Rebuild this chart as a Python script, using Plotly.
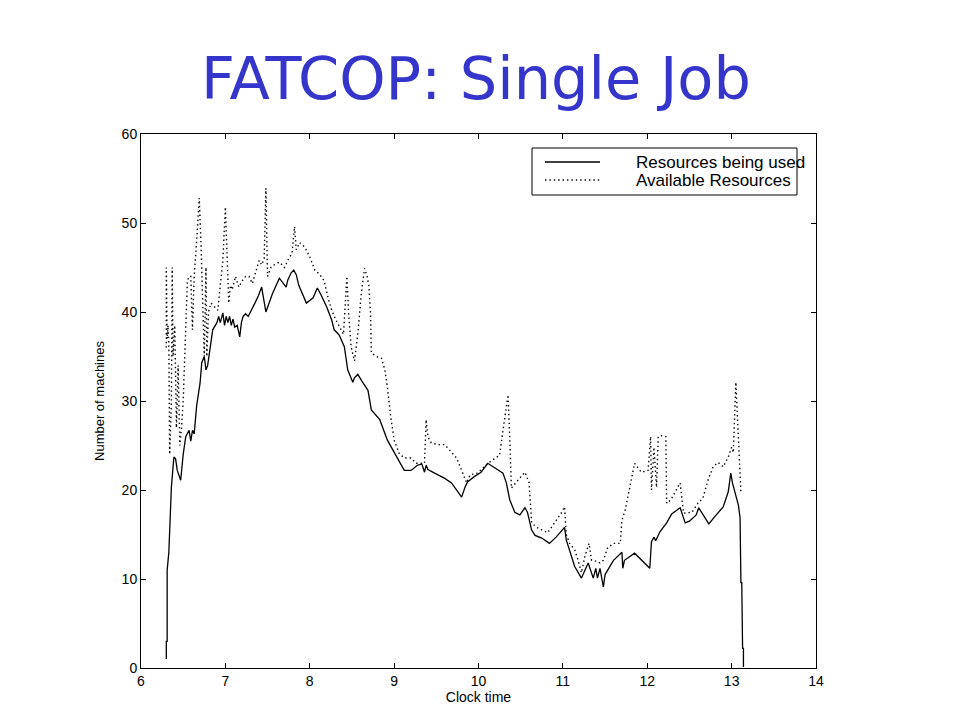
import plotly.graph_objects as go

# ---- data (Clock time in hours, Number of machines) ----
used_x = [6.30, 6.30, 6.31, 6.31, 6.33, 6.34, 6.36, 6.38, 6.39, 6.41, 6.43, 6.47, 6.50, 6.53, 6.57, 6.59,
          6.61, 6.63, 6.66, 6.70, 6.72, 6.75, 6.77, 6.79, 6.82, 6.85, 6.90, 6.92, 6.94, 6.97, 6.99, 7.01,
          7.03, 7.05, 7.07, 7.09, 7.11, 7.14, 7.17, 7.19, 7.21, 7.24, 7.27, 7.31, 7.35, 7.39, 7.43, 7.48,
          7.52, 7.56, 7.64, 7.68, 7.72, 7.74, 7.78, 7.81, 7.84, 7.87, 7.92, 7.96, 8.04, 8.09, 8.13, 8.20,
          8.26, 8.29, 8.35, 8.41, 8.45, 8.51, 8.53, 8.57, 8.62, 8.69, 8.73, 8.83, 8.92, 9.04, 9.12, 9.20,
          9.28, 9.33, 9.36, 9.38, 9.40, 9.48, 9.60, 9.68, 9.75, 9.80, 9.84, 9.87, 9.95, 10.03, 10.11, 10.18,
          10.29, 10.33, 10.37, 10.43, 10.49, 10.55, 10.58, 10.63, 10.67, 10.75, 10.84, 10.92, 11.02, 11.04,
          11.08, 11.14, 11.22, 11.30, 11.36, 11.39, 11.41, 11.44, 11.48, 11.50, 11.60, 11.70, 11.71, 11.73,
          11.85, 12.03, 12.05, 12.08, 12.10, 12.15, 12.23, 12.29, 12.39, 12.45, 12.50, 12.58, 12.61, 12.66,
          12.73, 12.80, 12.90, 12.96, 12.99, 13.01, 13.06, 13.08, 13.10, 13.11, 13.12, 13.13, 13.14, 13.14]
used_y = [1, 3, 3, 11, 13, 16, 20.3, 22.6, 23.7, 23.5, 22.2, 21.1, 24, 26, 26.7, 25.5,
          26.7, 26.3, 29.5, 32, 34.3, 35, 33.5, 34, 36, 38, 38.8, 39.5, 38.8, 39.9, 38.5, 39.5,
          38.8, 39.5, 38.5, 39.2, 38.3, 38.5, 37.2, 38.8, 39.5, 39.8, 39.5, 40.2, 41, 41.8, 42.8, 40,
          41, 42.1, 43.8, 43.3, 42.8, 43.6, 44.4, 44.7, 44.2, 43, 41.9, 41, 41.6, 42.7, 42, 40.6,
          39.1, 38, 37.4, 36.1, 33.5, 32.1, 32.6, 33, 32.2, 31.2, 29, 27.9, 25.6, 23.6, 22.2, 22.2,
          22.8, 22.9, 22, 22.8, 22.3, 21.9, 21.3, 20.8, 19.8, 19.2, 20.3, 20.9, 21.5, 22, 23, 22.6,
          21.9, 20.8, 18.9, 17.5, 17.2, 18, 17.5, 15.5, 14.9, 14.6, 14, 14.7, 15.8, 14.4,
          13.3, 11.4, 10.1, 11.8, 10.1, 11.2, 10.1, 11.2, 9.1, 10.5, 12.1, 13, 11.2, 12.1,
          12.9, 11.2, 14.2, 14.7, 14.3, 15.3, 16.3, 17.3, 18, 16.3, 16.5, 17.2, 18, 17.2,
          16.2, 17, 18.1, 19.8, 21.9, 20.8, 18.9, 18.3, 16.9, 9.6, 9.6, 2.2, 2.2, 0.1]

avail_x = [6.30, 6.30, 6.31, 6.32, 6.33, 6.34, 6.36, 6.37, 6.38, 6.40, 6.42, 6.44, 6.46, 6.48, 6.50, 6.53,
           6.55, 6.57, 6.59, 6.61, 6.63, 6.66, 6.69, 6.71, 6.73, 6.75, 6.77, 6.78, 6.80, 6.83, 6.88, 6.91,
           6.94, 6.97, 7.00, 7.02, 7.04, 7.06, 7.08, 7.12, 7.16, 7.20, 7.24, 7.28, 7.32, 7.36, 7.40, 7.43,
           7.46, 7.48, 7.50, 7.54, 7.58, 7.64, 7.70, 7.75, 7.79, 7.82, 7.84, 7.88, 7.94, 8.00, 8.06, 8.12,
           8.17, 8.22, 8.26, 8.31, 8.37, 8.40, 8.44, 8.46, 8.49, 8.53, 8.57, 8.61, 8.65, 8.68, 8.70, 8.72,
           8.73, 8.79, 8.85, 8.89, 8.92, 8.96, 9.00, 9.06, 9.12, 9.20, 9.26, 9.36, 9.38, 9.40, 9.44, 9.52,
           9.60, 9.66, 9.74, 9.80, 9.86, 9.90, 9.99, 10.11, 10.25, 10.28, 10.31, 10.35, 10.37, 10.39, 10.44,
           10.49, 10.55, 10.60, 10.63, 10.69, 10.76, 10.82, 10.90, 10.98, 11.02, 11.04, 11.08, 11.14, 11.18,
           11.22, 11.26, 11.31, 11.34, 11.40, 11.44, 11.48, 11.53, 11.60, 11.68, 11.70, 11.74, 11.79, 11.85,
           11.93, 12.01, 12.04, 12.05, 12.08, 12.11, 12.13, 12.17, 12.22, 12.23, 12.28, 12.34, 12.39, 12.43,
           12.53, 12.60, 12.66, 12.72, 12.78, 12.84, 12.90, 12.96, 13.00, 13.02, 13.05, 13.07, 13.09, 13.11]
avail_y = [36, 45, 37, 38.5, 36, 24, 30, 45, 35, 38.5, 27, 34, 25, 27, 30, 38,
           43.5, 44, 44, 38, 44, 48, 52.8, 48, 40, 35, 45, 35, 40, 41, 40.5, 40.2,
           43, 45.8, 51.8, 45, 41, 43, 42.5, 44, 42.8, 43.5, 44, 44, 43.2, 44.5, 45.8, 45.3,
           46, 53.9, 44, 45, 45.3, 45.6, 45, 46, 46.6, 49.6, 47, 47.8, 47.3, 46.2, 44.7, 44.2,
           43.5, 41.5, 40.2, 39.1, 38, 37.5, 44, 40, 36.1, 34.5, 37.5, 42, 44.9, 44, 43, 39.9,
           35.4, 35, 34.8, 33.5, 31.6, 28.2, 25.6, 24.1, 23.6, 23.6, 23, 23, 27.9, 26, 25.3, 25.1,
           25.1, 24.5, 23.6, 22.2, 20.8, 21.7, 21.9, 23, 23.9, 26, 28.2, 30.7, 26, 20.2, 20.8,
           21.3, 22, 20.8, 16.3, 15.8, 15.5, 15.2, 16.3, 17.4, 18.1, 15, 14, 13.3, 12.1,
           10.7, 12.5, 14, 12.1, 12, 11.8, 12.1, 13.5, 14, 14, 16.6, 17.8, 20, 23,
           22, 22.2, 26, 20, 24.8, 20.3, 26, 26.1, 26, 18.5, 18.9, 20, 20.8, 17.4,
           17.5, 18.5, 19.1, 21.1, 22.6, 23.1, 22.6, 23.7, 24.8, 24.2, 32.1, 28, 23.4, 19.7]

x_ticks = [6, 7, 8, 9, 10, 11, 12, 13, 14]
y_ticks = [0, 10, 20, 30, 40, 50, 60]
series_names = ["Resources being used", "Available Resources"]

FONT = "Liberation Sans, Arial, sans-serif"

fig = go.Figure()
fig.add_trace(go.Scatter(x=used_x, y=used_y, mode="lines", name=series_names[0],
                         line=dict(color="black", width=1.3), showlegend=False))
fig.add_trace(go.Scatter(x=avail_x, y=avail_y, mode="lines", name=series_names[1],
                         line=dict(color="black", width=1.4, dash="1.4px,3px"), showlegend=False))

# page offset of the plot (body margin)
OFF = 8
L, R, T, B = 141 - OFF, 816 - OFF, 134 - OFF, 668 - OFF
def px(xp):
    return (xp - OFF - L) / (R - L)
def py(yp):
    return (B - (yp - OFF)) / (B - T)

# manual legend box (MATLAB style)
fig.add_shape(type="rect", xref="paper", yref="paper", x0=px(532), x1=px(797), y0=py(195), y1=py(148),
              line=dict(color="black", width=1), fillcolor="white", layer="above")
fig.add_shape(type="line", xref="paper", yref="paper", x0=px(545), x1=px(600), y0=py(162), y1=py(162),
              line=dict(color="black", width=1.3), layer="above")
fig.add_shape(type="line", xref="paper", yref="paper", x0=px(545), x1=px(600), y0=py(180), y1=py(180),
              line=dict(color="black", width=1.4, dash="1.4px,3px"), layer="above")
for name, yy in zip(series_names, [162, 180]):
    fig.add_annotation(text=name, xref="paper", yref="paper", x=px(634), y=py(yy),
                       xanchor="left", yanchor="middle", showarrow=False,
                       font=dict(family=FONT, size=17, color="black"))

fig.update_layout(
    width=960, height=720,
    paper_bgcolor="white", plot_bgcolor="white",
    margin=dict(l=L, r=960 - R, t=T, b=720 - B),
    title=dict(text="FATCOP: Single Job", x=(476 - OFF) / 960, xanchor="center",
               y=1 - (78 - OFF) / 720, yanchor="middle", yref="container",
               font=dict(family="DejaVu Sans", size=59, color="#3535CC")),
    showlegend=False,
)
axis_common = dict(showline=True, linecolor="black", linewidth=1, mirror="ticks",
                   ticks="inside", ticklen=5, tickcolor="black", showgrid=False, zeroline=False,
                   tickfont=dict(family=FONT, size=14, color="black"))
fig.update_xaxes(range=[6, 14], tickvals=x_ticks, ticktext=[str(v) for v in x_ticks],
                 title=dict(text="Clock time", font=dict(family=FONT, size=14, color="black"), standoff=2),
                 **axis_common)
fig.update_yaxes(range=[0, 60], tickvals=y_ticks, ticktext=[str(v) for v in y_ticks],
                 title=dict(text="Number of machines", font=dict(family=FONT, size=13, color="black"), standoff=14),
                 **axis_common)

fig.write_html("out.html")
